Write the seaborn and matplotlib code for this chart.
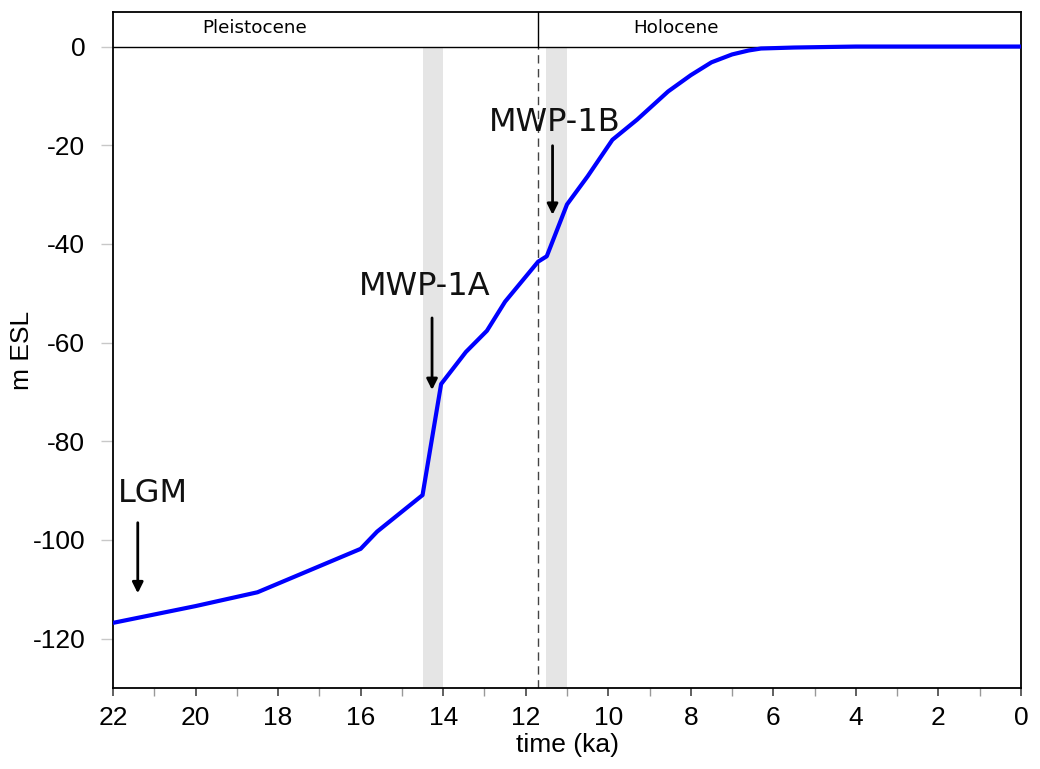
import matplotlib
matplotlib.use("Agg")
import matplotlib.pyplot as plt
import seaborn as sns
import pandas as pd
import numpy as np

# ---- data ----
time_ka = [22.0, 20.0, 18.5, 16.0, 15.6, 14.5, 14.05, 13.45, 12.94, 12.5, 11.7,
           11.49, 11.0, 10.5, 9.9, 9.3, 8.55, 8.0, 7.5, 7.0, 6.6, 6.3, 5.5, 4.0, 2.0, 0.0]
esl_m = [-116.8, -113.4, -110.6, -101.8, -98.3, -90.9, -68.4, -61.9, -57.6, -51.7, -43.6,
         -42.5, -32.0, -26.3, -18.9, -14.8, -9.1, -5.8, -3.2, -1.6, -0.8, -0.4, -0.2, 0.0, 0.0, 0.0]

periods = ["Pleistocene", "Holocene"]
period_x = [18.56, 8.37]
boundary_ka = 11.7

bands = [(14.5, 14.0), (11.5, 11.0)]

events = ["LGM", "MWP-1A", "MWP-1B"]
event_label_xy = [(21.03, -90.5), (14.46, -48.6), (11.29, -15.4)]
event_arrow_x = [21.4, 14.27, 11.35]
event_arrow_top = [-96.5, -55.0, -20.1]
event_arrow_tip = [-110.8, -69.6, -34.1]

xticks_major = [22, 20, 18, 16, 14, 12, 10, 8, 6, 4, 2, 0]
yticks = [0, -20, -40, -60, -80, -100, -120]

df = pd.DataFrame({"time": time_ka, "esl": esl_m})

sns.set_theme(style="white")
plt.rcParams["font.family"] = ["Liberation Sans", "DejaVu Sans"]
plt.rcParams["text.color"] = "black"
plt.rcParams["axes.labelcolor"] = "black"
plt.rcParams["xtick.labelcolor"] = "black"
plt.rcParams["ytick.labelcolor"] = "black"

fig = plt.figure(figsize=(10.40, 7.69), dpi=100)
ax = fig.add_axes([113/1040, 1 - 688/769, (1021-113)/1040, (688-12)/769])

# shaded bands
for a, b in bands:
    ax.fill_between([b, a], [-130, -130], [0, 0], color="#e5e5e5", lw=0, zorder=0)

# boundary lines
ax.plot([boundary_ka, boundary_ka], [-130, 0], color="#444444", lw=1.0,
        ls=(0, (6, 4)), zorder=1)
ax.plot([boundary_ka, boundary_ka], [0, 7], color="black", lw=1.0, zorder=1)
ax.axhline(0, color="black", lw=1.0, zorder=1)

sns.lineplot(data=df, x="time", y="esl", color="#0000ff", lw=3.0, ax=ax,
             zorder=3, sort=False)

for name, px in zip(periods, period_x):
    ax.text(px, 3.7, name, ha="center", va="center", fontsize=13.2,
            family=["DejaVu Sans"], color="black")

for name, (tx, ty), axx, top, tip in zip(events, event_label_xy, event_arrow_x,
                                          event_arrow_top, event_arrow_tip):
    ax.text(tx, ty, name, ha="center", va="center", fontsize=23,
            family=["DejaVu Sans"], color="#111111")
    ax.annotate("", xy=(axx, tip), xytext=(axx, top),
                arrowprops=dict(arrowstyle="-|>", color="black", lw=2.0,
                                mutation_scale=16, shrinkA=0, shrinkB=0))

ax.set_xlim(22, 0)
ax.set_ylim(-130, 7)
ax.set_xticks(xticks_major)
ax.set_xticks([21, 19, 17, 15, 13, 11, 9, 7, 5, 3, 1], minor=True)
ax.set_yticks(yticks)
ax.set_yticklabels([str(v) for v in yticks])
ax.set_xticklabels([str(v) for v in xticks_major])

ax.tick_params(axis="x", which="major", direction="out", length=6, width=1.2,
               color="#444444", labelsize=19, pad=7, bottom=True)
ax.tick_params(axis="x", which="minor", direction="out", length=6, width=1.0,
               color="#999999", bottom=True)
ax.tick_params(axis="y", which="major", direction="out", length=9, width=1.0,
               color="#c8c8c8", labelsize=19, pad=11, left=True)

for s in ax.spines.values():
    s.set_color("black")
    s.set_linewidth(1.3)
    s.set_visible(True)

ax.set_xlabel("time (ka)", fontsize=19, labelpad=2)
ax.set_ylabel("m ESL", fontsize=19, labelpad=-1)

fig.savefig("out.png", dpi=100)
